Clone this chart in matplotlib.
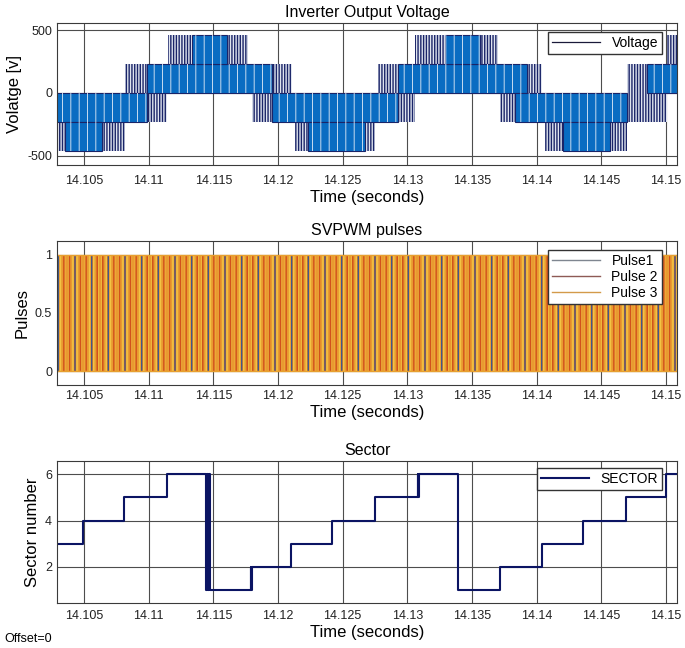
import numpy as np
import matplotlib
matplotlib.use('Agg')
import matplotlib.pyplot as plt
from matplotlib.lines import Line2D

plt.rcParams['font.family'] = ['Liberation Sans', 'DejaVu Sans']
plt.rcParams['axes.unicode_minus'] = False

# time window (s)
t_view = [14.10291, 14.15085]
t_sim = [14.1025, 14.1515]
xticks = [14.105, 14.11, 14.115, 14.12, 14.125, 14.13, 14.135, 14.14, 14.145, 14.15]
xtick_labels = ['14.105', '14.11', '14.115', '14.12', '14.125', '14.13',
                '14.135', '14.14', '14.145', '14.15']

# inverter output voltage: switching bands between two levels
# band_t0..core_t0 and core_t1..band_t1 are the sparse (narrow pulse) parts
band_t0 = [14.1025, 14.1025, 14.10817, 14.11149, 14.11799, 14.12131,
           14.12773, 14.13059, 14.13717, 14.14064, 14.14698, 14.15008]
core_t0 = [14.1025, 14.10353, 14.10987, 14.11335, 14.11954, 14.12232,
           14.12928, 14.13291, 14.13833, 14.14204, 14.14853, 14.1515]
core_t1 = [14.10987, 14.10639, 14.11954, 14.11606, 14.12928, 14.12673,
           14.13925, 14.13562, 14.14698, 14.14567, 14.1515, 14.1515]
band_t1 = [14.11142, 14.10817, 14.12108, 14.11768, 14.13059, 14.12750,
           14.14041, 14.13701, 14.15008, 14.14698, 14.1515, 14.1515]
band_lo = [-230, -460, 0, 230, -230, -460, 0, 230, -230, -460, 0, 230]
band_hi = [0, -230, 230, 460, 0, -230, 230, 460, 0, -230, 230, 460]

# SVPWM pulses (0/1 switching over the whole window)
pulse_names = ['Pulse1', 'Pulse 2', 'Pulse 3']
pulse_low = 0
pulse_high = 1

# sector number
sector_t = [14.1025, 14.1049, 14.1081, 14.1114, 14.11445, 14.11452, 14.11460,
            14.11468, 14.11476, 14.1179, 14.11795, 14.1180, 14.1210, 14.1242,
            14.1275, 14.1308, 14.13085, 14.1309, 14.1339, 14.1372, 14.1404,
            14.1436, 14.1469, 14.1500, 14.1515]
sector_v = [3, 4, 5, 6, 1, 6, 1, 6, 1, 2, 1, 2, 3, 4,
            5, 6, 5, 6, 1, 2, 3, 4, 5, 6, 6]

fig = plt.figure(figsize=(6.85, 6.48), dpi=100)
ax1 = fig.add_axes([0.0832, 0.7453, 0.9051, 0.2196])
ax2 = fig.add_axes([0.0832, 0.4059, 0.9051, 0.2222])
ax3 = fig.add_axes([0.0832, 0.0690, 0.9051, 0.2201])

grid_c = '#4d4d4d'
for ax in (ax1, ax2, ax3):
    ax.set_axisbelow(True)
    ax.grid(True, color=grid_c, linewidth=0.8)
    ax.set_xlim(t_view)
    ax.set_xticks(xticks)
    ax.set_xticklabels(xtick_labels)
    ax.tick_params(length=0, labelsize=9, colors='#222222')
    for s in ax.spines.values():
        s.set_color('#3a3a3a')
        s.set_linewidth(0.8)
    ax.set_xlabel('Time (seconds)', fontsize=12, labelpad=2)

leg_kw = dict(loc='upper right', fontsize=10, fancybox=False, framealpha=1,
              edgecolor='#333333', borderpad=0.3, borderaxespad=0,
              handlelength=3.5)

# ---- voltage
navy = '#1a2468'
b_lo = np.array(band_lo)
b_h = np.array(band_hi) - b_lo
b0 = np.array(band_t0)
b1 = np.array(band_t1)
c0 = np.array(core_t0)
c1 = np.array(core_t1)
plt.rcParams['hatch.linewidth'] = 1.0
ax1.bar(x=b0, height=b_h, width=c0 - b0, bottom=b_lo, align='edge',
        color='#dfe4ef', edgecolor=navy, linewidth=0, hatch='||||||')
ax1.bar(x=c1, height=b_h, width=b1 - c1, bottom=b_lo, align='edge',
        color='#dfe4ef', edgecolor=navy, linewidth=0, hatch='||||||')
ax1.bar(x=c0, height=b_h, width=c1 - c0, bottom=b_lo, align='edge',
        color='#096cc2', edgecolor=navy, linewidth=0.8)
plt.rcParams['hatch.linewidth'] = 0.6
ax1.bar(x=c0, height=b_h, width=c1 - c0, bottom=b_lo, align='edge',
        fill=False, edgecolor='#e6eef8', linewidth=0, hatch='||')
ax1.set_ylim(-575, 560)
ax1.set_yticks([-500, 0, 500])
ax1.tick_params(axis='x', pad=7)
ax1.set_ylabel('Volatge [v]', fontsize=12)
ax1.set_title('Inverter Output Voltage', fontsize=11.5, pad=4)
ax1.legend([Line2D([], [], color='#1a1a3a', lw=0.9)], ['Voltage'],
           bbox_to_anchor=(0.976, 0.937), **leg_kw)

# ---- pulses
pulse_cols = ['#3d5a8f', '#d2511c', '#f2c443']
w = t_sim[1] - t_sim[0]
ph = pulse_high - pulse_low
plt.rcParams['hatch.linewidth'] = 1.1
ax2.bar(x=t_sim[0], height=ph, width=w, bottom=pulse_low, align='edge',
        color='#e99a30', edgecolor=pulse_cols[2], linewidth=0, hatch='||||')
ax2.bar(x=t_sim[0], height=ph, width=w, bottom=pulse_low, align='edge',
        fill=False, edgecolor=pulse_cols[1], linewidth=0, hatch='|||')
plt.rcParams['hatch.linewidth'] = 0.9
ax2.bar(x=t_sim[0], height=ph, width=w, bottom=pulse_low, align='edge',
        fill=False, edgecolor=pulse_cols[0], linewidth=0, hatch='|')
ax2.hlines([pulse_low, pulse_high], t_sim[0], t_sim[1], color='#e8a030', lw=1)
ax2.set_ylim(-0.12, 1.12)
ax2.set_yticks([0, 0.5, 1])
ax2.set_yticklabels(['0', '0.5', '1'])
ax2.tick_params(axis='x', pad=3.5)
ax2.set_ylabel('Pulses', fontsize=12)
ax2.set_title('SVPWM pulses', fontsize=11.5, pad=4)
leg_cols = ['#7f8690', '#8e5a55', '#d39a4a']
ax2.legend([Line2D([], [], color=c, lw=1.0) for c in leg_cols], pulse_names,
           bbox_to_anchor=(0.976, 0.9375), labelspacing=0.15, **leg_kw)

# ---- sector
ax3.plot(sector_t, sector_v, drawstyle='steps-post', color='#0b1463', lw=1.5,
         label='SECTOR')
ax3.set_ylim(0.42, 6.59)
ax3.set_yticks([2, 4, 6])
ax3.tick_params(axis='x', pad=5)
ax3.set_ylabel('Sector number', fontsize=12)
ax3.set_title('Sector', fontsize=11.5, pad=4)
ax3.legend(bbox_to_anchor=(0.976, 0.949), **leg_kw)

fig.text(0.006, 1 - 639 / 648, 'Offset=0', fontsize=9, va='center')

fig.savefig('out.png', dpi=100)
